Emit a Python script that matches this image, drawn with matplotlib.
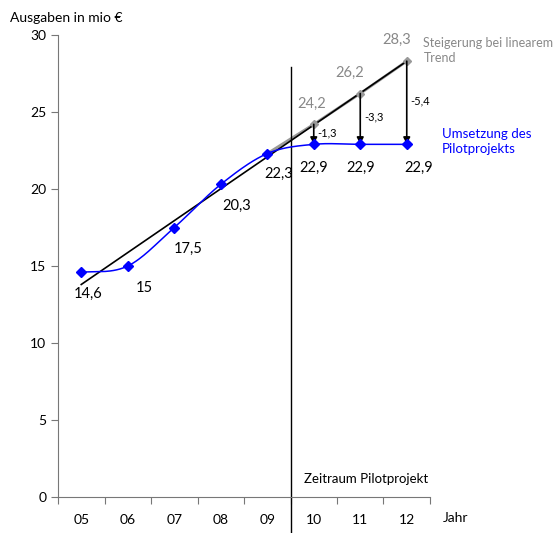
import numpy as np
import matplotlib
matplotlib.use("Agg")
import matplotlib.pyplot as plt

plt.rcParams['font.family'] = ['Lato', 'DejaVu Sans']

years = ["05", "06", "07", "08", "09", "10", "11", "12"]
ausgaben = [14.6, 15.0, 17.5, 20.3, 22.3, 22.9, 22.9, 22.9]
trend_years_idx = [4, 5, 6, 7]
trend_values = [22.3, 24.2, 26.2, 28.3]
trend_line_start = 13.8
diff_labels = ["-1,3", "-3,3", "-5,4"]

fig = plt.figure(figsize=(5.53, 5.33), dpi=100)
ax = fig.add_axes([58/553, 36/533, 372/553, 462/533])

x = np.arange(len(years))

# smooth (Catmull-Rom) blue line
def catmull(xs, ys, n=30):
    xs = np.asarray(xs, float); ys = np.asarray(ys, float)
    px = np.concatenate([[2*xs[0]-xs[1]], xs, [2*xs[-1]-xs[-2]]])
    py = np.concatenate([[ys[0]], ys, [ys[-1]]])
    ox, oy = [], []
    for i in range(1, len(px)-2):
        t = np.linspace(0, 1, n)
        for arr, out in ((px, ox), (py, oy)):
            p0, p1, p2, p3 = arr[i-1], arr[i], arr[i+1], arr[i+2]
            out.extend(0.5*((2*p1) + (-p0+p2)*t + (2*p0-5*p1+4*p2-p3)*t**2 + (-p0+3*p1-3*p2+p3)*t**3))
    return np.array(ox), np.array(oy)

sx, sy = catmull(x, ausgaben)
ax.plot(sx, sy, color='#0000FF', lw=1.1, zorder=3)
ax.plot(x, ausgaben, 'D', color='#0000FF', ms=5.5, zorder=4)

# trend line
ax.plot([x[0], x[-1]], [trend_line_start, trend_values[-1]], color='black', lw=1.2, zorder=2)
ax.plot(trend_years_idx, trend_values, color='#999999', lw=2, zorder=1.5)
ax.plot(trend_years_idx[1:], trend_values[1:], 'D', color='#999999', ms=4, zorder=3)

# arrows
grey_dx = [-0.05, -0.22, -0.22]
for i, (xi, tv) in enumerate(zip(trend_years_idx[1:], trend_values[1:])):
    av = ausgaben[xi]
    ax.annotate('', xy=(xi, av), xytext=(xi, tv),
                arrowprops=dict(arrowstyle='-|>', color='black', lw=1.2, mutation_scale=10,
                                shrinkA=0, shrinkB=0), zorder=3)
    ax.text(xi + 0.08, (tv + av) / 2 + 0.1, diff_labels[i], fontsize=8, ha='left', va='center')
    ax.text(xi + grey_dx[i], tv + 0.9, f"{tv:.1f}".replace('.', ','), color='#888888', fontsize=10.5,
            ha='center', va='bottom')

# value labels for blue series
offsets = [(0.15, -1.4), (0.35, -1.4), (0.3, -1.4),
           (0.35, -1.4), (0.25, -1.3), (0.0, -1.5),
           (0.0, -1.5), (0.25, -1.5)]
for xi, v, (dx, dy) in zip(x, ausgaben, offsets):
    lab = f"{v:.1f}".replace('.', ',') if v != int(v) else str(int(v))
    ax.text(xi + dx, v + dy, lab, fontsize=10.5, ha='center', va='center')

# vertical line for pilot period
ax.plot([4.5, 4.5], [27.9, -2.5], color='black', lw=1, clip_on=False, zorder=2)
ax.text(4.8, 1.2, "Zeitraum Pilotprojekt", fontsize=9.5, ha='left', va='center')

ax.text(7.36, 29.0, "Steigerung bei linearem\nTrend", color='#888888', fontsize=9,
        ha='left', va='center', linespacing=1.35, clip_on=False)
ax.text(7.75, 23.1, "Umsetzung des\nPilotprojekts", color='#0000FF', fontsize=9.5,
        ha='left', va='center', linespacing=1.3)

ax.set_xlim(-0.5, 7.5)
ax.set_ylim(0, 30)
ax.set_yticks(range(0, 31, 5))
ax.set_xticks(np.arange(-0.5, 8, 1))
ax.set_xticklabels([])
ax.set_xticks(x, minor=True)
ax.set_xticklabels(years, minor=True)
ax.tick_params(axis='x', which='minor', length=0, pad=12, labelsize=10)
ax.tick_params(axis='x', which='major', length=5, direction='out', color='#777777')
ax.tick_params(axis='y', length=5, direction='out', labelsize=10, color='#777777')
for s in ['top', 'right']:
    ax.spines[s].set_visible(False)
ax.spines['left'].set_color('#777777')
ax.spines['bottom'].set_color('#777777')

fig.text(10/553, 1 - 18/533, "Ausgaben in mio €", fontsize=10, ha='left', va='center')
fig.text(443/553, 1 - 518/533, "Jahr", fontsize=10, ha='left', va='center')

fig.savefig("out.png", dpi=100)
